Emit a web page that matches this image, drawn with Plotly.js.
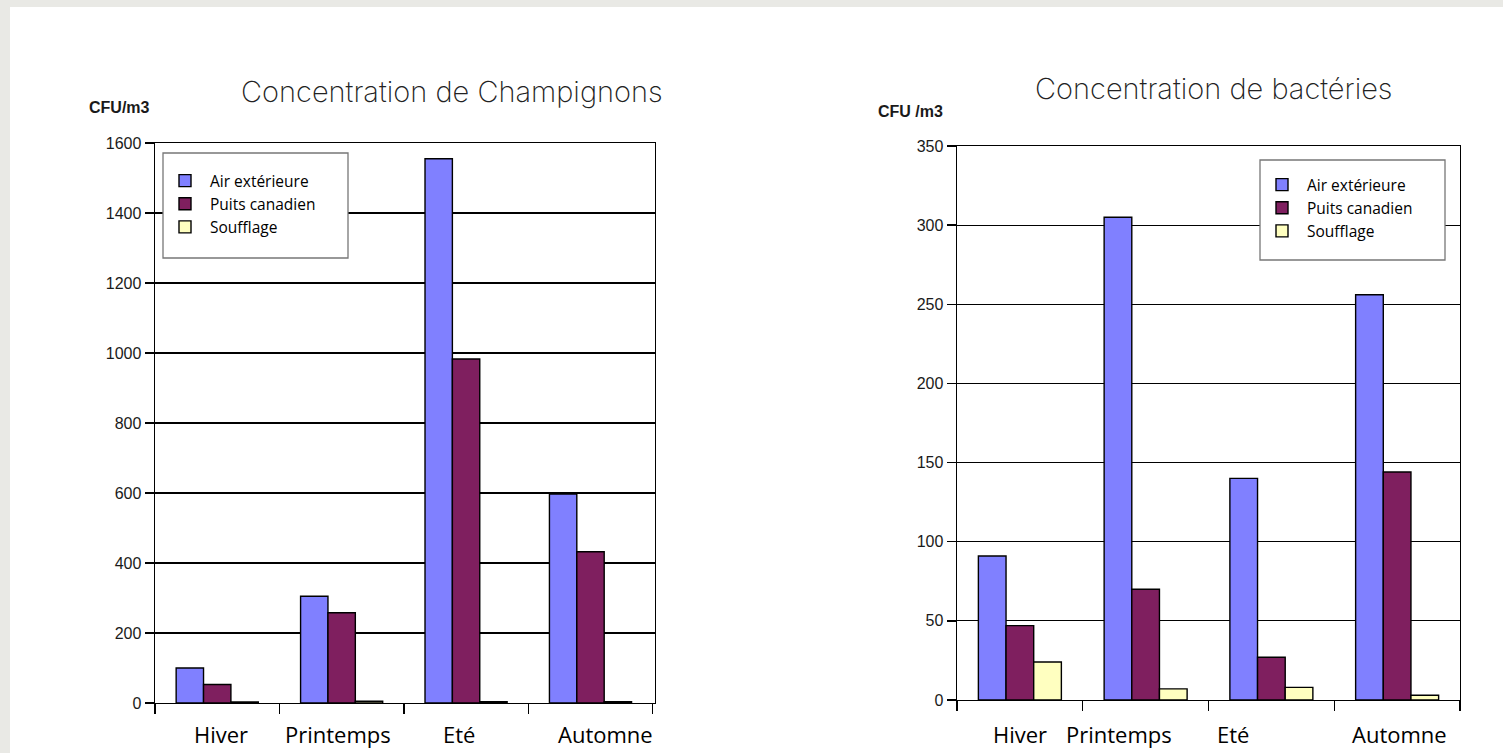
<!DOCTYPE html>
<html>
<head>
<meta charset="utf-8">
<script src="https://cdn.plot.ly/plotly-3.0.1.min.js"></script>
<style>html,body{margin:0;padding:0;background:#fff;}#chart{width:1503px;height:753px;}</style>
</head>
<body>
<div id="chart"></div>
<script>
const seasons = ['Hiver', 'Printemps', 'Eté', 'Automne'];
const seriesNames = ['Air extérieure', 'Puits canadien', 'Soufflage'];
const champAir = [100, 305, 1555, 597];
const champPuits = [53, 258, 983, 432];
const champSouff = [3, 5, 4, 4];
const bactAir = [91, 305, 140, 256];
const bactPuits = [47, 70, 27, 144];
const bactSouff = [24, 7, 8, 3];
const champTicks = [0, 200, 400, 600, 800, 1000, 1200, 1400, 1600];
const bactTicks = [0, 50, 100, 150, 200, 250, 300, 350];

const W = 1503, H = 753;
const px = v => v / W;
const py = v => 1 - v / H;
const colors = ['#8080ff', '#7f1f5f', '#ffffc0'];
const lineStyle = {color: '#000', width: 1.4};

function makeBars(vals, xa, ya, leg) {
  return vals.map((v, i) => ({
    type: 'bar', x: seasons, y: v, name: seriesNames[i],
    xaxis: xa, yaxis: ya, legend: leg,
    marker: {color: colors[i], line: lineStyle},
    hoverinfo: 'y'
  }));
}

const data = [
  ...makeBars([champAir, champPuits, champSouff], 'x', 'y', 'legend'),
  ...makeBars([bactAir, bactPuits, bactSouff], 'x2', 'y2', 'legend2')
];

const tickFont = {family: 'Liberation Sans, Arial, sans-serif', size: 16, color: '#1a1a1a'};

function xAxis(domain, anchor) {
  return {
    domain: domain, anchor: anchor, type: 'category',
    showticklabels: false, showline: true, linecolor: '#000', linewidth: 1.4,
    mirror: true, ticks: 'outside', tickson: 'boundaries', ticklen: 10,
    tickcolor: '#000', tickwidth: 1.4, showgrid: false, fixedrange: true
  };
}
function yAxis(domain, anchor, range, ticks) {
  return {
    domain: domain, anchor: anchor, range: range,
    tickvals: ticks, ticktext: ticks.map(String),
    showline: true, linecolor: '#000', linewidth: 1.4, mirror: true,
    ticks: 'outside', ticklen: 9, tickcolor: '#000', tickwidth: 1.4,
    showgrid: true, gridcolor: '#000', gridwidth: 1.2, zeroline: false,
    tickfont: tickFont, fixedrange: true
  };
}

const legendCommon = {
  xanchor: 'left', yanchor: 'top', bgcolor: 'rgba(0,0,0,0)', borderwidth: 0,
  font: {family: 'Open Sans, Noto Sans, sans-serif', size: 15.5, color: '#000'},
  traceorder: 'normal', tracegroupgap: 0, itemwidth: 40
};

const catFont = {family: 'Open Sans, Noto Sans, sans-serif', size: 22, color: '#000'};
const catShiftL = [4, -4, -7, 15];
const catShiftR = [0, -27, -38, 2];
const annotations = [];
seasons.forEach((s, i) => {
  annotations.push({xref: 'x', yref: 'paper', x: s, y: py(734), text: s, showarrow: false,
    xanchor: 'center', yanchor: 'middle', xshift: catShiftL[i], font: catFont});
  annotations.push({xref: 'x2', yref: 'paper', x: s, y: py(734), text: s, showarrow: false,
    xanchor: 'center', yanchor: 'middle', xshift: catShiftR[i], font: catFont});
});
const titleFont = {family: 'Inter, Lato, sans-serif', size: 29, color: '#222', weight: 200};
annotations.push({xref: 'paper', yref: 'paper', x: px(452), y: py(91), text: 'Concentration de Champignons',
  showarrow: false, xanchor: 'center', yanchor: 'middle', font: titleFont});
annotations.push({xref: 'paper', yref: 'paper', x: px(1214), y: py(88), text: 'Concentration de bactéries',
  showarrow: false, xanchor: 'center', yanchor: 'middle', font: titleFont});
const unitFont = {family: 'Liberation Sans, Arial, sans-serif', size: 16, color: '#1a1a1a', weight: 'bold'};
annotations.push({xref: 'paper', yref: 'paper', x: px(87), y: py(108), text: 'CFU/m3',
  showarrow: false, xanchor: 'left', yanchor: 'middle', font: unitFont});
annotations.push({xref: 'paper', yref: 'paper', x: px(876), y: py(112), text: 'CFU /m3',
  showarrow: false, xanchor: 'left', yanchor: 'middle', font: unitFont});

const layout = {
  width: W, height: H,
  margin: {l: 0, r: 0, t: 0, b: 0},
  paper_bgcolor: '#ffffff', plot_bgcolor: '#ffffff',
  barmode: 'group', bargap: 0.34, bargroupgap: 0,
  showlegend: true,
  xaxis: xAxis([px(155), px(655)], 'y'),
  yaxis: yAxis([py(703), py(143)], 'x', [0, 1600], champTicks),
  xaxis2: xAxis([px(957), px(1460)], 'y2'),
  yaxis2: yAxis([py(700), py(146)], 'x2', [0, 350], bactTicks),
  legend: Object.assign({x: px(160), y: py(164)}, legendCommon),
  legend2: Object.assign({x: px(1257), y: py(168)}, legendCommon),
  annotations: annotations,
  shapes: [
    {type: 'rect', xref: 'paper', yref: 'paper', x0: 0, x1: 1, y0: py(7), y1: 1,
     fillcolor: '#e9e9e5', line: {width: 0}, layer: 'below'},
    {type: 'rect', xref: 'paper', yref: 'paper', x0: 0, x1: px(10), y0: 0, y1: 1,
     fillcolor: '#e9e9e5', line: {width: 0}, layer: 'below'},
    {type: 'rect', xref: 'paper', yref: 'paper', x0: px(163), x1: px(348), y0: py(258), y1: py(153),
     fillcolor: '#ffffff', line: {color: '#777', width: 1.3}, layer: 'above'},
    {type: 'rect', xref: 'paper', yref: 'paper', x0: px(1260), x1: px(1445), y0: py(260), y1: py(160),
     fillcolor: '#ffffff', line: {color: '#777', width: 1.3}, layer: 'above'}
  ]
};

Plotly.newPlot('chart', data, layout, {displayModeBar: false, staticPlot: true});
</script>
</body>
</html>
